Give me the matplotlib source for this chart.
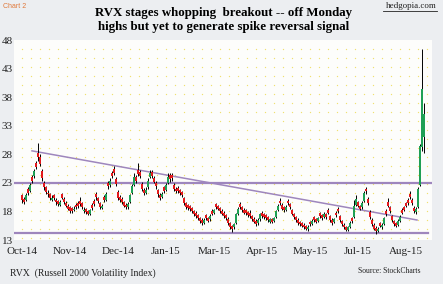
import numpy as np
import matplotlib
matplotlib.use('Agg')
import matplotlib.pyplot as plt

# RVX daily candles, Oct-14 .. Aug-15
Opens = [20.8, 20.2, 20.0, 21.9, 21.6, 24.0, 24.2, 26.5, 28.3, 27.6,
         25.0, 23.0, 22.2, 21.3, 21.0, 20.0, 20.9, 20.0, 19.8, 19.2,
         21.0, 20.2, 19.5, 19.0, 18.7, 18.6, 18.2, 19.2, 19.5, 19.9,
         19.4, 18.0, 18.4, 18.1, 17.6, 19.2, 19.9, 21.0, 20.3, 19.4,
         18.6, 20.6, 20.0, 23.0, 22.6, 24.8, 25.4, 23.6, 21.4, 20.6,
         20.2, 19.6, 19.2, 18.8, 19.6, 21.2, 22.6, 24.1, 25.2, 24.9,
         22.8, 21.8, 21.2, 22.2, 24.0, 24.9, 23.9, 23.0, 21.7, 20.9,
         20.5, 22.2, 21.8, 23.0, 24.3, 24.4, 22.7, 22.0, 22.1, 21.8,
         21.4, 20.3, 19.4, 19.1, 18.9, 18.6, 18.1, 17.7, 17.4, 16.8,
         16.5, 16.0, 17.3, 16.9, 16.6, 18.1, 17.7, 19.3, 19.0, 18.6,
         18.1, 17.8, 17.3, 16.7, 15.9, 15.5, 15.2, 16.0, 17.6, 19.3,
         18.8, 18.3, 18.2, 17.9, 17.7, 17.2, 16.7, 16.3, 15.9, 16.6,
         17.7, 17.5, 17.3, 17.0, 16.2, 16.7, 16.3, 17.0, 18.2, 19.9,
         19.1, 18.7, 18.3, 19.9, 19.3, 18.3, 17.5, 17.0, 16.5, 16.2,
         16.0, 15.7, 15.5, 14.9, 16.2, 15.8, 17.0, 16.7, 16.3, 17.7,
         17.3, 17.0, 17.6, 18.3, 17.2, 16.5, 16.1, 17.8, 18.5, 17.2,
         16.3, 15.7, 15.3, 14.8, 15.3, 16.8, 17.0, 19.2, 19.6, 19.0,
         18.7, 19.8, 22.0, 20.2, 17.9, 16.5, 15.6, 15.1, 14.6, 16.0,
         15.2, 15.8, 18.1, 19.6, 18.7, 17.2, 16.3, 15.9, 15.6, 16.4,
         18.2, 18.8, 19.4, 20.0, 21.0, 20.0, 18.6, 17.9, 18.8, 22.6,
         29.2, 31.0]
Highs = [21.0, 20.5, 21.2, 22.2, 23.0, 24.3, 25.4, 26.8, 29.9, 28.0,
         25.4, 23.4, 22.5, 21.8, 21.3, 20.8, 21.1, 20.3, 20.0, 20.0,
         21.3, 20.5, 19.8, 19.3, 18.9, 18.8, 18.9, 19.5, 19.9, 20.6,
         19.6, 18.7, 18.6, 18.3, 18.5, 19.5, 20.2, 21.4, 20.6, 19.6,
         19.3, 20.8, 21.4, 23.3, 23.8, 25.0, 26.0, 24.0, 21.8, 20.9,
         20.5, 19.9, 19.4, 19.6, 21.1, 22.8, 24.7, 24.4, 26.4, 25.2,
         23.1, 22.1, 22.2, 23.8, 25.3, 25.2, 24.2, 23.3, 22.0, 21.2,
         21.4, 22.5, 23.0, 24.8, 24.8, 24.8, 23.0, 22.3, 22.4, 22.0,
         21.6, 20.6, 19.7, 19.3, 19.2, 18.8, 18.3, 18.0, 17.6, 17.1,
         16.8, 16.8, 17.6, 17.1, 17.5, 18.4, 18.5, 19.5, 19.2, 18.8,
         18.4, 18.0, 17.5, 17.0, 16.1, 15.7, 16.0, 17.8, 18.8, 19.6,
         19.0, 18.6, 18.4, 18.1, 18.2, 17.4, 17.0, 16.6, 16.8, 17.8,
         18.0, 17.7, 17.5, 17.2, 16.9, 16.9, 17.1, 18.3, 19.3, 20.3,
         19.4, 19.0, 19.1, 20.2, 19.5, 18.5, 17.8, 17.2, 16.8, 16.4,
         16.2, 15.9, 15.7, 15.6, 16.4, 16.6, 17.2, 16.9, 17.1, 17.9,
         17.5, 17.9, 17.8, 18.6, 17.4, 16.8, 16.9, 18.0, 18.8, 17.4,
         16.5, 15.9, 15.5, 15.5, 16.3, 17.0, 20.0, 20.8, 19.9, 19.2,
         19.8, 21.5, 22.2, 20.5, 18.2, 16.8, 15.9, 15.4, 15.3, 16.2,
         15.9, 17.1, 18.4, 20.3, 19.0, 17.4, 16.5, 16.2, 16.6, 17.3,
         18.6, 19.0, 19.7, 20.3, 21.5, 20.3, 18.9, 18.8, 22.2, 29.8,
         46.4, 36.9]
Lows = [19.4, 19.3, 19.8, 20.9, 21.4, 22.9, 23.9, 25.4, 26.8, 25.9,
        23.4, 21.8, 21.0, 20.6, 20.0, 19.8, 20.0, 19.2, 18.9, 19.0,
        20.1, 19.3, 18.7, 18.2, 17.7, 17.8, 18.0, 18.4, 18.6, 19.0,
        18.5, 17.8, 17.5, 17.3, 17.4, 18.3, 19.0, 20.0, 19.5, 18.5,
        18.4, 19.7, 19.8, 22.0, 22.3, 23.8, 24.4, 22.4, 20.0, 19.7,
        19.3, 18.7, 18.4, 18.5, 19.4, 21.0, 22.4, 23.0, 24.2, 23.8,
        21.6, 20.8, 21.0, 22.0, 23.8, 23.8, 22.9, 22.0, 20.6, 20.0,
        20.3, 21.3, 21.6, 22.8, 23.2, 23.4, 21.6, 21.2, 21.3, 20.9,
        20.5, 19.2, 18.5, 18.3, 18.1, 17.8, 17.2, 16.9, 16.5, 16.0,
        15.7, 15.8, 16.5, 16.1, 16.4, 17.3, 17.5, 18.5, 18.2, 17.7,
        17.3, 16.9, 16.5, 15.7, 14.9, 14.4, 15.0, 15.8, 17.4, 18.5,
        17.9, 17.5, 17.4, 17.1, 16.9, 16.3, 15.9, 15.5, 15.7, 16.4,
        16.9, 16.7, 16.5, 16.2, 16.0, 15.9, 16.1, 16.8, 18.0, 19.2,
        18.2, 17.9, 18.0, 19.2, 18.4, 17.3, 16.7, 16.2, 15.7, 15.5,
        15.2, 14.9, 14.7, 14.6, 15.5, 15.6, 16.2, 15.9, 16.1, 16.9,
        16.5, 16.8, 16.7, 17.5, 16.2, 15.7, 15.9, 17.0, 17.7, 16.2,
        15.5, 14.9, 14.5, 14.5, 15.1, 16.0, 16.8, 19.0, 18.7, 18.2,
        18.5, 19.6, 21.1, 19.2, 16.7, 15.5, 14.7, 14.0, 14.4, 15.2,
        15.0, 15.6, 17.2, 18.7, 17.7, 16.2, 15.5, 15.2, 15.4, 16.2,
        17.5, 18.0, 18.7, 19.2, 20.2, 19.2, 17.7, 17.6, 18.6, 22.4,
        28.5, 28.3]
Closes = [20.0, 19.6, 20.8, 21.3, 22.6, 23.4, 25.0, 25.8, 27.5, 26.3,
          23.8, 22.3, 21.4, 21.0, 20.4, 20.3, 20.4, 19.6, 19.3, 19.6,
          20.4, 19.6, 19.0, 18.5, 18.0, 18.1, 18.5, 18.7, 18.9, 19.3,
          18.8, 18.3, 17.9, 17.6, 18.2, 18.6, 19.3, 20.5, 19.8, 18.8,
          19.0, 20.0, 21.0, 22.4, 23.4, 24.2, 24.8, 22.8, 20.4, 20.0,
          19.6, 19.0, 18.7, 19.3, 20.8, 22.4, 24.0, 23.4, 24.6, 24.2,
          22.0, 21.2, 21.8, 23.4, 24.8, 24.2, 23.2, 22.4, 21.0, 20.4,
          21.0, 21.6, 22.6, 24.0, 23.6, 23.8, 22.0, 21.5, 21.6, 21.2,
          20.8, 19.5, 18.8, 18.6, 18.4, 18.1, 17.5, 17.2, 16.8, 16.3,
          16.0, 16.5, 16.8, 16.4, 17.2, 17.6, 18.2, 18.8, 18.5, 18.0,
          17.6, 17.2, 16.8, 16.0, 15.2, 15.0, 15.8, 17.5, 18.5, 18.8,
          18.2, 17.8, 17.7, 17.4, 17.2, 16.6, 16.2, 15.8, 16.5, 17.5,
          17.2, 17.0, 16.8, 16.5, 16.6, 16.2, 16.8, 18.0, 19.0, 19.5,
          18.5, 18.2, 18.8, 19.5, 18.7, 17.6, 17.0, 16.5, 16.0, 15.8,
          15.5, 15.2, 15.0, 15.3, 15.8, 16.3, 16.5, 16.2, 16.8, 17.2,
          16.8, 17.5, 17.0, 17.8, 16.5, 16.0, 16.6, 17.3, 18.0, 16.5,
          15.8, 15.2, 14.8, 15.2, 16.0, 16.3, 19.0, 20.2, 19.0, 18.5,
          19.5, 21.2, 21.5, 19.5, 17.0, 15.8, 15.0, 14.6, 15.0, 15.5,
          15.6, 16.8, 17.5, 19.0, 18.0, 16.5, 15.8, 15.5, 16.3, 17.0,
          17.8, 18.3, 19.0, 19.5, 20.5, 19.5, 18.0, 18.5, 22.0, 29.5,
          39.5, 35.0]

TickPos = [0, 24, 48, 72, 96, 120, 144, 168, 192]
TickLabels = ['Oct-14', 'Nov-14', 'Dec-14', 'Jan-15', 'Mar-15', 'Apr-15', 'May-15', 'Jul-15', 'Aug-15']
YTicks = [13, 18, 23, 28, 33, 38, 43, 48]

# drawn lines: resistance, support, falling trendline
Resistance = 23.0
Support = 14.2
TrendX = [5, 197.5]
TrendY = [28.6, 16.5]

fig = plt.figure(figsize=(4.43, 2.84), dpi=100, facecolor='#eceef1')
ax = fig.add_axes([14/443, 44/284, 418/443, 200/284])
ax.set_facecolor('#fdfdfb')
for s in ax.spines.values():
    s.set_visible(False)

# yellow dotted background
gx, gy = np.meshgrid(np.arange(0.02, 1.0, 9/418), np.arange(0.01, 1.0, 9/200))
ax.scatter(gx.ravel(), gy.ravel(), s=0.9, color='#f0e070', transform=ax.transAxes, zorder=0, linewidths=0)

x = np.arange(len(Closes))
O = np.array(Opens); C = np.array(Closes)
up = C >= O
ax.vlines(x, Lows, Highs, color='black', lw=0.7, zorder=2)
ax.bar(x[up], (C - O)[up], bottom=O[up], width=1.0, color='#1fa055', zorder=3)
ax.bar(x[~up], (O - C)[~up], bottom=C[~up], width=1.0, color='#e3191c', zorder=3)

ax.axhline(Resistance, xmin=0, xmax=1, color='#9e86bd', lw=1.6, zorder=1)
ax.plot([-4, 203], [Support, Support], color='#9e86bd', lw=1.6, zorder=1)
ax.plot(TrendX, TrendY, color='#9e86bd', lw=1.1, zorder=1)

ax.set_xlim(-4, 205)
ax.set_ylim(13, 48)
ax.set_xticks(TickPos)
ax.set_xticklabels(TickLabels)
ax.set_yticks(YTicks)
ax.tick_params(length=0, labelsize=8, pad=1)
ax.tick_params(axis='x', pad=5)
for t in ax.get_xticklabels() + ax.get_yticklabels():
    t.set_fontfamily('Liberation Serif')
    t.set_color('#222222')

fig.text(224/443, 1 - 20/284, 'RVX stages whopping  breakout -- off Monday\nhighs but yet to generate spike reversal signal',
         ha='center', va='center', fontsize=9.3, fontweight='bold', family='Liberation Serif', linespacing=1.2)
fig.text(3/443, 1 - 6/284, 'Chart 2', ha='left', va='center', fontsize=5, color='#e0783a', family='Liberation Sans')
fig.text(437/443, 1 - 6/284, 'hedgopia.com', ha='right', va='center', fontsize=6.5, color='#222222',
         family='Liberation Serif')
fig.add_artist(plt.Line2D([383/443, 437/443], [1 - 11/284, 1 - 11/284], color='#222222', lw=0.6))
fig.text(10/443, 1 - 273/284, 'RVX  (Russell 2000 Volatility Index)', ha='left', va='center', fontsize=7,
         family='Liberation Serif', color='#222222')
fig.text(420/443, 1 - 271/284, 'Source: StockCharts', ha='right', va='center', fontsize=5.5,
         family='Liberation Serif', color='#222222')

fig.savefig('out.png', dpi=100, facecolor=fig.get_facecolor())
